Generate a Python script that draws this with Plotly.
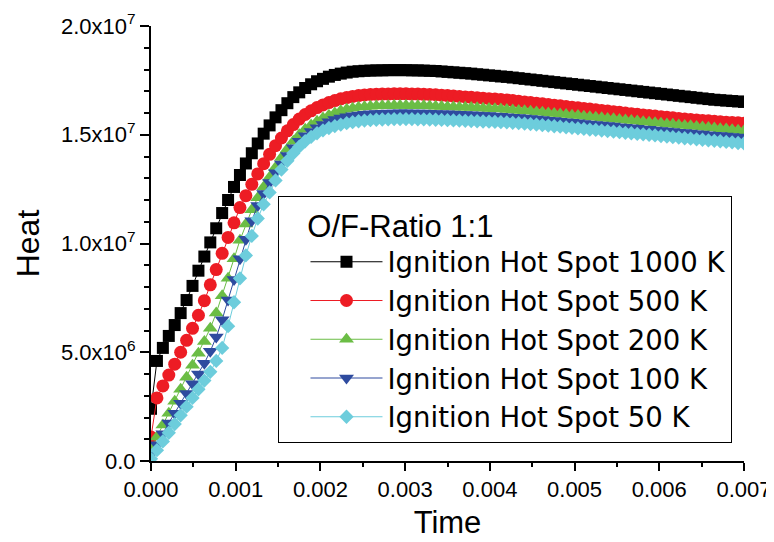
import plotly.graph_objects as go

# sampling grid (ms step 0.07) -> seconds
N_POINTS = 101
TIME = [round(i * 0.00007, 5) for i in range(N_POINTS)]

SCALE = 1e6  # values below are in units of 1e6

HEAT_1000K = [
    2.4, 4.6, 5.2, 5.75, 6.25, 6.8, 7.4, 8.05, 8.75, 9.4,
    10.05, 10.7, 11.4, 12.0, 12.6, 13.15, 13.68, 14.15, 14.6, 15.05,
    15.43, 15.8, 16.13, 16.45, 16.73, 16.95, 17.15, 17.32, 17.46, 17.57,
    17.67, 17.75, 17.81, 17.86, 17.9, 17.92, 17.94, 17.95, 17.96, 17.96,
    17.97, 17.97, 17.97, 17.97, 17.96, 17.96, 17.95, 17.94, 17.93, 17.91,
    17.89, 17.87, 17.85, 17.83, 17.81, 17.78, 17.76, 17.73, 17.71, 17.68,
    17.66, 17.63, 17.6, 17.57, 17.54, 17.51, 17.48, 17.45, 17.42, 17.39,
    17.36, 17.33, 17.3, 17.27, 17.24, 17.21, 17.18, 17.15, 17.12, 17.09,
    17.06, 17.03, 17.0, 16.97, 16.94, 16.91, 16.88, 16.85, 16.82, 16.79,
    16.76, 16.73, 16.7, 16.67, 16.64, 16.61, 16.59, 16.57, 16.55, 16.53,
    16.51,
]

HEAT_500K = [
    1.1, 2.9, 3.45, 3.95, 4.45, 5.0, 5.55, 6.1, 6.7, 7.37,
    8.1, 8.8, 9.55, 10.28, 10.95, 11.65, 12.2, 12.72, 13.2, 13.67,
    14.1, 14.5, 14.85, 15.18, 15.47, 15.72, 15.93, 16.1, 16.25, 16.37,
    16.48, 16.57, 16.65, 16.71, 16.76, 16.8, 16.83, 16.85, 16.86, 16.87,
    16.87, 16.88, 16.88, 16.88, 16.87, 16.87, 16.86, 16.85, 16.84, 16.82,
    16.8, 16.78, 16.76, 16.74, 16.72, 16.7, 16.68, 16.66, 16.64, 16.62,
    16.6, 16.57, 16.54, 16.51, 16.48, 16.45, 16.42, 16.39, 16.36, 16.33,
    16.3, 16.27, 16.24, 16.21, 16.18, 16.15, 16.12, 16.09, 16.06, 16.03,
    16.0, 15.97, 15.94, 15.91, 15.89, 15.86, 15.83, 15.8, 15.78, 15.75,
    15.72, 15.7, 15.68, 15.66, 15.64, 15.62, 15.6, 15.58, 15.56, 15.55,
    15.53,
]

HEAT_200K = [
    0.55, 1.1, 1.65, 2.2, 2.75, 3.3, 3.85, 4.4, 4.95, 5.5,
    6.1, 6.8, 7.6, 8.4, 9.3, 10.15, 10.9, 11.55, 12.1, 12.6,
    13.05, 13.5, 13.95, 14.35, 14.7, 15.0, 15.25, 15.45, 15.62, 15.77,
    15.9, 16.0, 16.1, 16.17, 16.22, 16.26, 16.29, 16.31, 16.32, 16.33,
    16.33, 16.34, 16.34, 16.34, 16.33, 16.33, 16.33, 16.32, 16.31, 16.3,
    16.29, 16.28, 16.27, 16.26, 16.25, 16.24, 16.22, 16.21, 16.19, 16.18,
    16.16, 16.14, 16.12, 16.1, 16.08, 16.05, 16.03, 16.0, 15.98, 15.95,
    15.93, 15.9, 15.88, 15.85, 15.83, 15.8, 15.78, 15.75, 15.73, 15.7,
    15.68, 15.65, 15.63, 15.6, 15.58, 15.55, 15.53, 15.5, 15.48, 15.45,
    15.43, 15.41, 15.38, 15.36, 15.33, 15.31, 15.28, 15.26, 15.23, 15.21,
    15.18,
]

HEAT_100K = [
    0.3, 0.75, 1.25, 1.75, 2.2, 2.65, 3.1, 3.55, 4.0, 4.5,
    5.05, 5.7, 6.5, 7.4, 8.35, 9.3, 10.2, 11.05, 11.75, 12.3,
    12.8, 13.25, 13.65, 14.05, 14.4, 14.7, 14.95, 15.15, 15.32, 15.47,
    15.6, 15.7, 15.77, 15.83, 15.87, 15.91, 15.94, 15.96, 15.98, 15.99,
    16.0, 16.0, 16.01, 16.01, 16.0, 16.0, 16.0, 15.99, 15.98, 15.97,
    15.96, 15.95, 15.94, 15.93, 15.92, 15.91, 15.89, 15.88, 15.86, 15.85,
    15.83, 15.81, 15.79, 15.77, 15.75, 15.72, 15.7, 15.67, 15.65, 15.62,
    15.6, 15.57, 15.55, 15.52, 15.5, 15.47, 15.45, 15.42, 15.4, 15.37,
    15.35, 15.32, 15.3, 15.27, 15.25, 15.22, 15.2, 15.17, 15.15, 15.12,
    15.1, 15.08, 15.05, 15.03, 15.0, 14.98, 14.96, 14.94, 14.92, 14.9,
    14.88,
]

HEAT_50K = [
    0.1, 0.5, 0.9, 1.3, 1.7, 2.1, 2.5, 2.9, 3.3, 3.7,
    4.1, 4.6, 5.2, 6.2, 7.3, 8.4, 9.45, 10.35, 11.15, 11.8,
    12.35, 12.9, 13.4, 13.8, 14.15, 14.45, 14.7, 14.9, 15.07, 15.2,
    15.31, 15.4, 15.47, 15.53, 15.58, 15.62, 15.65, 15.67, 15.69, 15.7,
    15.71, 15.72, 15.72, 15.72, 15.72, 15.71, 15.71, 15.7, 15.69, 15.68,
    15.67, 15.66, 15.65, 15.64, 15.63, 15.62, 15.61, 15.6, 15.59, 15.58,
    15.57, 15.55, 15.53, 15.51, 15.49, 15.47, 15.44, 15.42, 15.39, 15.37,
    15.34, 15.32, 15.29, 15.27, 15.24, 15.22, 15.19, 15.17, 15.14, 15.12,
    15.09, 15.07, 15.04, 15.02, 14.99, 14.97, 14.94, 14.92, 14.89, 14.87,
    14.84, 14.82, 14.79, 14.77, 14.74, 14.72, 14.7, 14.67, 14.65, 14.62,
    14.6,
]

SERIES_NAMES = [
    "Ignition Hot Spot 1000 K",
    "Ignition Hot Spot 500 K",
    "Ignition Hot Spot 200 K",
    "Ignition Hot Spot 100 K",
    "Ignition Hot Spot 50 K",
]
SERIES_VALUES = [HEAT_1000K, HEAT_500K, HEAT_200K, HEAT_100K, HEAT_50K]
COLORS = ["#000000", "#ED1C24", "#6BBD45", "#2E4B9F", "#6DCDDC"]
SYMBOLS = ["square", "circle", "triangle-up", "triangle-down", "diamond"]
SIZES = [12, 13, 13, 13, 11]

X_TICKS = [0, 0.001, 0.002, 0.003, 0.004, 0.005, 0.006, 0.007]
X_TICK_TEXT = ["0.000", "0.001", "0.002", "0.003", "0.004", "0.005", "0.006", "0.007"]
Y_TICKS = [0, 5e6, 1e7, 1.5e7, 2e7]
Y_TICK_TEXT = ["0.0", "5.0x10<sup>6</sup>", "1.0x10<sup>7</sup>",
               "1.5x10<sup>7</sup>", "2.0x10<sup>7</sup>"]

FONT = "Liberation Sans, Arial, sans-serif"
LEGEND_FONT = "DejaVu Sans, Liberation Sans, sans-serif"

fig = go.Figure()
for name, vals, color, sym, size in zip(SERIES_NAMES, SERIES_VALUES, COLORS, SYMBOLS, SIZES):
    fig.add_trace(go.Scatter(
        x=TIME[:len(vals)],
        y=[v * SCALE for v in vals],
        mode="lines+markers",
        name=name,
        line=dict(color=color, width=1),
        marker=dict(symbol=sym, size=size, color=color, line=dict(width=0)),
        cliponaxis=True,
    ))

# the page body adds an 8px offset, so margins are shifted accordingly
fig.update_layout(
    width=774, height=542,
    margin=dict(l=143, r=38, t=18, b=89, autoexpand=False),
    paper_bgcolor="white", plot_bgcolor="white",
    font=dict(family=FONT, color="black", size=22),
    showlegend=True,
    legend=dict(
        x=0.215, y=0.609, xanchor="left", yanchor="top",
        bgcolor="white", bordercolor="black", borderwidth=1,
        font=dict(family=LEGEND_FONT, size=27.5, color="black"),
        title=dict(text="&nbsp;&nbsp;&nbsp;O/F-Ratio 1:1",
                   font=dict(family=FONT, size=31, color="black")),
        itemwidth=72,
        indentation=26,
        tracegroupgap=0,
    ),
    xaxis=dict(
        range=[0, 0.007], tickvals=X_TICKS, ticktext=X_TICK_TEXT,
        automargin=False,
        showline=True, linecolor="black", linewidth=2, mirror=False,
        ticks="outside", ticklen=8, tickwidth=1.5, tickcolor="black",
        showgrid=False, zeroline=False,
        tickfont=dict(family=FONT, size=22, color="black"),
        minor=dict(dtick=0.0005, tick0=0, ticks="outside", ticklen=4,
                   tickwidth=1.5, tickcolor="black", showgrid=False),
        title=dict(text="Time", font=dict(family=FONT, size=31, color="black"),
                   standoff=10),
    ),
    yaxis=dict(
        range=[0, 2e7], tickvals=Y_TICKS, ticktext=Y_TICK_TEXT,
        automargin=False,
        showline=True, linecolor="black", linewidth=2, mirror=False,
        ticks="outside", ticklen=9, tickwidth=1.5, tickcolor="black",
        showgrid=False, zeroline=False,
        tickfont=dict(family=FONT, size=22, color="black"),
        minor=dict(dtick=1e6, tick0=0, ticks="outside", ticklen=5,
                   tickwidth=1.5, tickcolor="black", showgrid=False),
        title=dict(text="Heat", font=dict(family=FONT, size=32, color="black"),
                   standoff=12),
    ),
)

fig.write_html("out.html")
